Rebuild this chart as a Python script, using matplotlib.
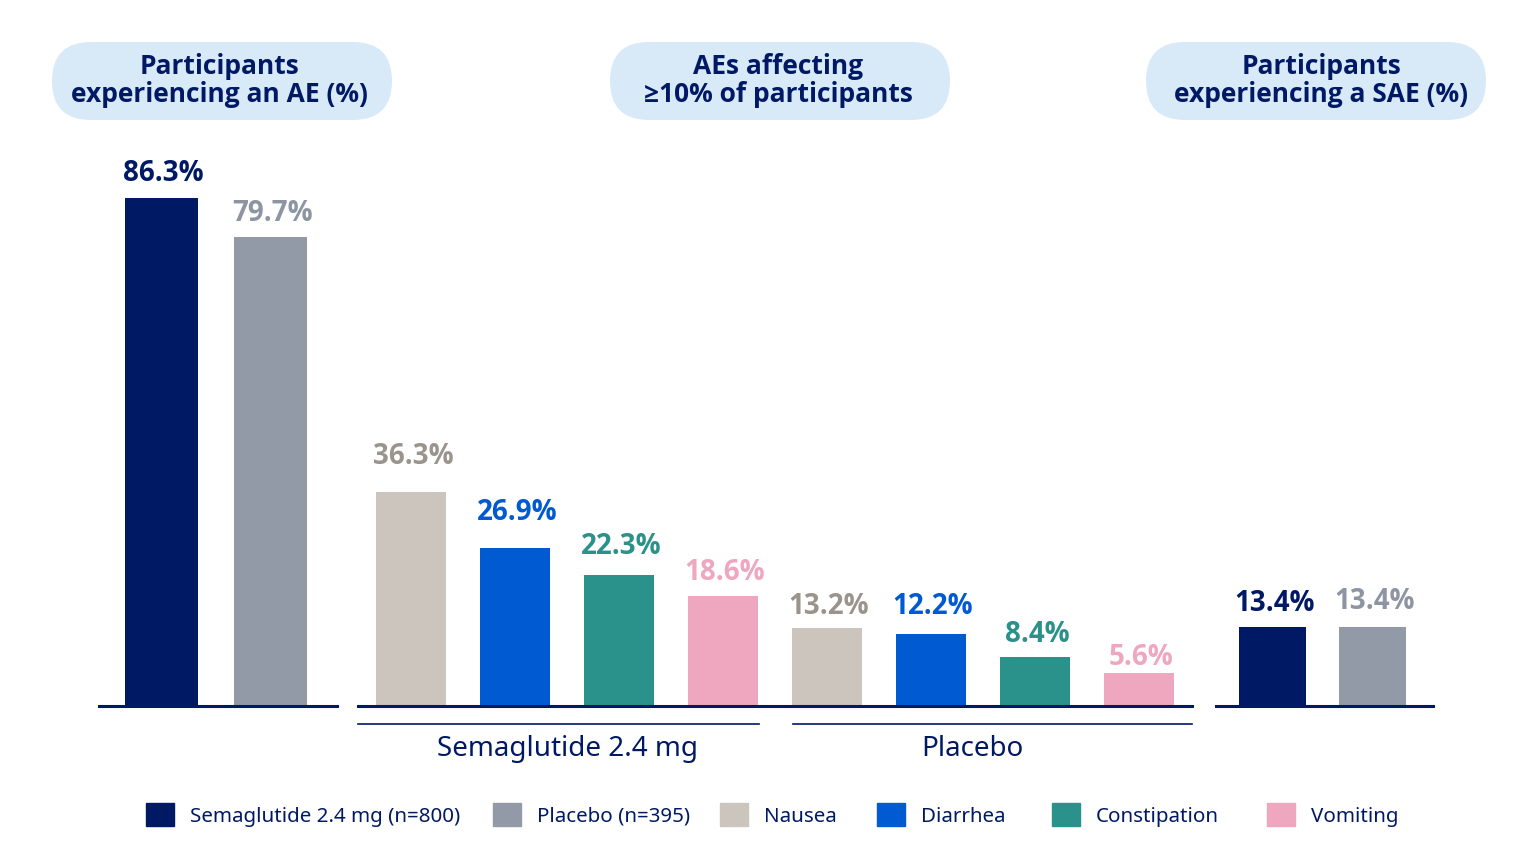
import matplotlib
matplotlib.use("Agg")
import matplotlib.pyplot as plt
from matplotlib.patches import FancyBboxPatch, Patch
import matplotlib.transforms as mtransforms

plt.rcParams['font.family'] = ['Noto Sans', 'DejaVu Sans']
BOLD = ['Open Sans', 'DejaVu Sans']  # Noto Sans has no bold face here

# data
series = ['Semaglutide 2.4 mg (n=800)', 'Placebo (n=395)']
any_ae = [86.3, 79.7]
serious_ae = [13.4, 13.4]
ae_types = ['Nausea', 'Diarrhea', 'Constipation', 'Vomiting']
ae_sema = [36.3, 26.9, 22.3, 18.6]
ae_placebo = [13.2, 12.2, 8.4, 5.6]
groups = ['Semaglutide 2.4 mg', 'Placebo']
headers = ['Participants\nexperiencing an AE (%)',
           'AEs affecting\n≥10% of participants',
           'Participants\nexperiencing a SAE (%)']

NAVY = '#001965'
series_colors = [NAVY, '#939AA7']
series_text = [NAVY, '#8E95A2']
type_colors = ['#CBC5BE', '#005AD2', '#2A918B', '#EEA7BF']
type_text = ['#9A948C', '#005AD2', '#2A918B', '#EEA7BF']

# gap (px) between each value label baseline and its bar top
gap1 = [17, 16]
gap2 = [28, 28, 21, 16, 14, 20, 15, 8]
gap3 = [16, 18]

W, H = 1536, 864
fig = plt.figure(figsize=(W / 100, H / 100), dpi=100)

# background layer in pixel units for the header pills
bg = fig.add_axes([0, 0, 1, 1])
bg.set_xlim(0, W)
bg.set_ylim(H, 0)
bg.axis('off')
for cx, tx, txt in zip([222, 780, 1316], [219, 778, 1321], headers):
    bg.add_patch(FancyBboxPatch((cx - 170, 42), 340, 78,
                                boxstyle='round,pad=0,rounding_size=39',
                                fc='#D8E9F7', ec='none'))
    bg.text(tx, 80.5, txt, ha='center', va='center', fontsize=19,
            family=BOLD, fontweight='bold', color=NAVY, linespacing=1.05)

base_px = 706
unit_px = 5.89
ymax = 100
ax_h = ymax * unit_px / H
ax_b = 1 - base_px / H


def panel(x0, x1, xlim):
    ax = fig.add_axes([x0 / W, ax_b, (x1 - x0) / W, ax_h])
    ax.set_xlim(*xlim)
    ax.set_ylim(0, ymax)
    for s in ['top', 'left', 'right']:
        ax.spines[s].set_visible(False)
    ax.spines['bottom'].set_color(NAVY)
    ax.spines['bottom'].set_linewidth(2.2)
    ax.set_xticks([])
    ax.set_yticks([])
    ax.patch.set_alpha(0)
    return ax


def labels(ax, xs, vals, colors, gaps):
    for x, v, c, g in zip(xs, vals, colors, gaps):
        ax.annotate(f'{v}%', (x, v), xytext=(1.5, g * 0.72),
                    textcoords='offset points', ha='center', va='baseline',
                    fontsize=20, family=BOLD, fontweight='bold', color=c)


# panel 1: any AE
ax1 = panel(99, 337, (-0.573, 1.61))
ax1.bar(range(2), any_ae, width=0.67, color=series_colors)
labels(ax1, range(2), any_ae, series_text, gap1)

# panel 2: AEs by type
vals2 = ae_sema + ae_placebo
ax2 = panel(358, 1192, (-0.51, 7.51))
ax2.bar(range(8), vals2, width=0.673, color=type_colors * 2)
labels(ax2, range(8), vals2, type_text * 2, gap2)
tr = mtransforms.blended_transform_factory(ax2.transData, ax2.transAxes)
for (a, b), g, tx in zip([(-0.51, 3.346), (3.673, 7.51)], groups, [1.50, 5.40]):
    ax2.plot([a, b], [-0.031, -0.031], transform=tr, color=NAVY, lw=1.2,
             clip_on=False)
    ax2.text(tx, -0.073, g, transform=tr, ha='center', va='center',
             fontsize=20, color=NAVY)

# panel 3: serious AE
ax3 = panel(1216, 1433, (-0.565, 1.605))
ax3.bar(range(2), serious_ae, width=0.67, color=series_colors)
labels(ax3, range(2), serious_ae, series_text, gap3)

# legend entries, each placed on its own
legend_x = [146, 493, 720, 877, 1052, 1267]
for x, c, lab in zip(legend_x, series_colors + type_colors, series + ae_types):
    fig.legend([Patch(color=c)], [lab], loc='center left',
               bbox_to_anchor=(x / W, 1 - 815 / H), frameon=False,
               borderpad=0, borderaxespad=0,
               fontsize=14.8, labelcolor=NAVY, handlelength=1.36,
               handleheight=1.36, handletextpad=0.78)

fig.savefig('out.png', dpi=100, facecolor='white')
